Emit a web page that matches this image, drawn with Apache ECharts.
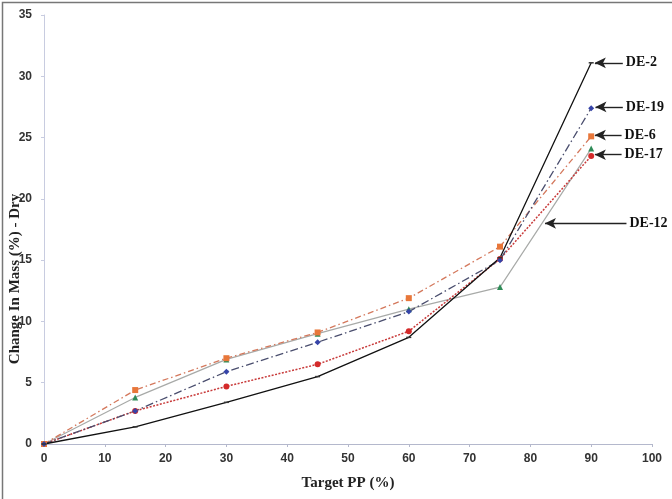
<!DOCTYPE html>
<html>
<head>
<meta charset="utf-8">
<script src="https://cdn.jsdelivr.net/npm/echarts@6/dist/echarts.min.js"></script>
<style>
html,body{margin:0;padding:0;background:#fff}
#main{width:672px;height:499px}
</style>
</head>
<body>
<div id="main"></div>
<script>
// target PP (%)
var targetPP = [0, 15, 30, 45, 60, 75, 90];
// change in mass (%) - dry
var de2  = [0, 1.4, 3.4, 5.5, 8.7, 15.2, 31.1];
var de19 = [0, 2.7, 5.9, 8.3, 10.8, 15.0, 27.4];
var de6  = [0, 4.4, 7.0, 9.1, 11.9, 16.1, 25.1];
var de17 = [0, 2.7, 4.7, 6.5, 9.2, 15.1, 23.5];
var de12 = [0, 3.8, 6.9, 9.0, 11.0, 12.8, 24.1];
// arrow callouts: [name, y, arrow head x, arrow tail x]
var callouts = [
  ['DE-2', 31.1, 90.6, 95.2],
  ['DE-19', 27.5, 90.7, 95.2],
  ['DE-6', 25.2, 90.6, 95.0],
  ['DE-17', 23.6, 90.6, 95.0],
  ['DE-12', 18.0, 82.4, 95.8]
];
var yTitle = 'Change In Mass (%) - Dry';

var chart = echarts.init(document.getElementById('main'));

function pairs(arr) {
  return targetPP.map(function (x, i) { return [x, arr[i]]; });
}
function callout(name) {
  var c = callouts.filter(function (v) { return v[0] === name; })[0];
  return {
    silent: true,
    symbol: ['arrow', 'none'],
    symbolSize: [8, 11],
    lineStyle: { color: '#222', width: 1.4, type: 'solid' },
    label: {
      show: true, position: 'end', distance: 3,
      formatter: c[0], color: '#111',
      fontFamily: 'Liberation Serif', fontWeight: 'bold', fontSize: 14
    },
    data: [[{ coord: [c[2], c[1]] }, { coord: [c[3], c[1]] }]]
  };
}
function mk(name, data, lineColor, dash, width, sym, symSize, symColor) {
  return {
    name: name, type: 'line', data: pairs(data),
    lineStyle: { color: lineColor, width: width, type: dash },
    symbol: sym, symbolSize: symSize,
    itemStyle: { color: symColor, borderWidth: 0 },
    z: 3,
    markLine: callout(name)
  };
}

var option = {
  animation: false,
  backgroundColor: '#fff',
  grid: { left: 44, right: 20, top: 15, bottom: 55, outerBoundsMode: 'none', containLabel: false },
  xAxis: {
    type: 'value', min: 0, max: 100, interval: 10,
    name: 'Target PP (%)', nameLocation: 'middle', nameGap: 32,
    nameTextStyle: { fontFamily: 'Liberation Serif', fontWeight: 'bold', fontSize: 15, color: '#222' },
    axisLine: { lineStyle: { color: '#b4b8cc', width: 1 } },
    axisTick: { show: true, inside: false, length: 3, lineStyle: { color: '#b4b8cc' } },
    axisLabel: { fontFamily: 'Liberation Sans', fontWeight: 'bold', fontSize: 12, color: '#333', margin: 9 },
    splitLine: { show: false }
  },
  yAxis: {
    type: 'value', min: 0, max: 35, interval: 5,
    axisLine: { show: true, lineStyle: { color: '#c8cce0', width: 1 } },
    axisTick: { show: true, length: 3, lineStyle: { color: '#c8cce0' } },
    axisLabel: { fontFamily: 'Liberation Sans', fontWeight: 'bold', fontSize: 12, color: '#333', margin: 12 },
    splitLine: { show: false }
  },
  graphic: [{
    type: 'rect', left: 0, top: 0, silent: true,
    shape: { width: 671, height: 498 },
    style: { fill: 'none', stroke: '#777', lineWidth: 1.5 }
  }, {
    // y axis title sits a bit below the plot middle in the original
    type: 'text', x: 15, y: 279, rotation: Math.PI / 2, silent: true,
    style: {
      text: yTitle, fill: '#222',
      font: 'bold 15px "Liberation Serif"',
      align: 'center', verticalAlign: 'middle'
    }
  }],
  series: [
    mk('DE-12', de12, '#a8aaa8', 'solid', 1.2, 'triangle', 6, '#2e8b57'),
    mk('DE-17', de17, '#c83a3a', [2, 1.5], 1.5, 'circle', 6, '#d42a2a'),
    mk('DE-6', de6, '#d4785c', [6, 3, 1.5, 3], 1.3, 'rect', 6, '#e8773a'),
    mk('DE-19', de19, '#4a4e6e', [8, 3, 1.5, 3], 1.3, 'diamond', 6, '#3644a8'),
    mk('DE-2', de2, '#111', 'solid', 1.3, 'rect', [5, 1.5], '#333')
  ]
};
chart.setOption(option);
</script>
</body>
</html>
